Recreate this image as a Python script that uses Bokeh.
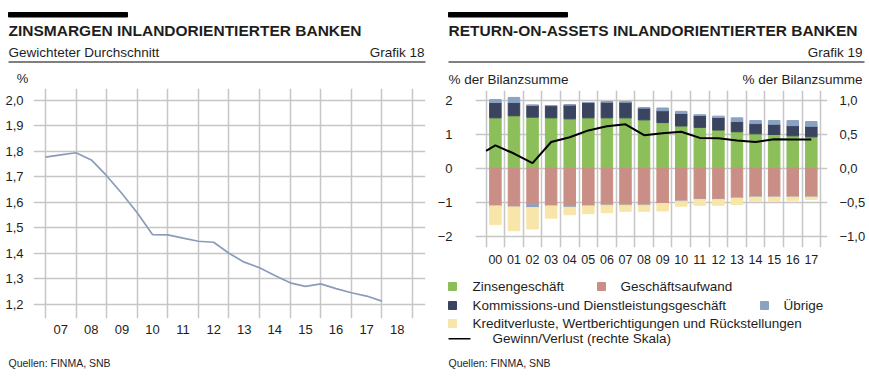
import numpy as np
from bokeh.plotting import figure
from bokeh.models import Range1d, LinearAxis, FixedTicker, CustomJSTickFormatter
from bokeh.layouts import row, column
from bokeh.embed import file_html
from bokeh.resources import INLINE
from bokeh.core.properties import value

FONT = "Liberation Sans"
TXT = "#1e1e1e"
GRID = "#c6c6c6"

# ---------------- Grafik 18: Zinsmargen (semi-annual) ----------------
zm_period = [2007.0, 2007.5, 2008.0, 2008.5, 2009.0, 2009.5, 2010.0, 2010.5,
             2011.0, 2011.5, 2012.0, 2012.5, 2013.0, 2013.5, 2014.0, 2014.5,
             2015.0, 2015.5, 2016.0, 2016.5, 2017.0, 2017.5, 2018.0]
zm_value = [1.778, 1.787, 1.795, 1.767, 1.705, 1.635, 1.560, 1.474,
            1.473, 1.460, 1.448, 1.444, 1.401, 1.366, 1.344, 1.314,
            1.285, 1.271, 1.281, 1.262, 1.246, 1.233, 1.213]
zm_year_labels = ["07", "08", "09", "10", "11", "12", "13", "14", "15", "16", "17", "18"]
zm_y_ticks = [1.2, 1.3, 1.4, 1.5, 1.6, 1.7, 1.8, 1.9, 2.0]

# ---------------- Grafik 19: Return-on-Assets ----------------
roa_years = ["00", "01", "02", "03", "04", "05", "06", "07", "08",
             "09", "10", "11", "12", "13", "14", "15", "16", "17"]
zins = [1.49, 1.55, 1.51, 1.49, 1.46, 1.49, 1.49, 1.49, 1.43,
        1.35, 1.25, 1.21, 1.13, 1.08, 1.02, 1.00, 0.96, 0.93]
kommission = [0.45, 0.39, 0.35, 0.36, 0.41, 0.45, 0.46, 0.46, 0.35,
              0.35, 0.37, 0.35, 0.37, 0.30, 0.30, 0.30, 0.30, 0.31]
uebrige = [0.09, 0.15, -0.08, 0.00, -0.03, 0.00, 0.02, 0.01, 0.00,
           0.08, 0.06, 0.02, 0.04, 0.11, 0.09, 0.11, 0.15, 0.14]
aufwand = [-1.10, -1.13, -1.07, -1.10, -1.11, -1.10, -1.08, -1.08, -1.08,
           -1.03, -0.96, -0.91, -0.91, -0.87, -0.84, -0.84, -0.84, -0.84]
kredit = [-0.55, -0.70, -0.63, -0.36, -0.22, -0.23, -0.22, -0.18, -0.18,
          -0.22, -0.15, -0.17, -0.17, -0.19, -0.12, -0.12, -0.11, -0.07]
gewinn_start = 0.26
gewinn = [0.34, 0.22, 0.08, 0.39, 0.46, 0.56, 0.62, 0.65, 0.49,
          0.52, 0.54, 0.45, 0.445, 0.41, 0.39, 0.43, 0.425, 0.425]
roa_left_ticks = [-2, -1, 0, 1, 2]
roa_right_ticks = [-1.0, -0.5, 0.0, 0.5, 1.0]

C_ZINS = "#8cbf5a"
C_AUFW = "#c98f86"
C_KOMM = "#3b445f"
C_UEBR = "#8ba2c3"
C_KRED = "#f8e5a9"
C_LINE = "#000000"

legend_labels = ["Zinsengeschäft", "Geschäftsaufwand",
                 "Kommissions-und Dienstleistungsgeschäft", "Übrige",
                 "Kreditverluste, Wertberichtigungen und Rückstellungen",
                 "Gewinn/Verlust (rechte Skala)"]
legend_colors = [C_ZINS, C_AUFW, C_KOMM, C_UEBR, C_KRED, C_LINE]

HDR = 88  # header height


def blank(w, h):
    p = figure(width=w, height=h, x_range=Range1d(0, w), y_range=Range1d(h, 0),
               output_backend="svg", toolbar_location=None, min_border=0,
               min_border_left=0, min_border_right=0, min_border_top=0, min_border_bottom=0,
               x_axis_type=None, y_axis_type=None)
    p.outline_line_color = None
    p.frame_align = False
    return p


def txt(p, x, y, s, size, align="left", bold=False, color=TXT):
    # y is the visual centre of the text line
    p.text(x=[x], y=[y], text=[s], text_font=value(FONT),
           text_font_size=value(f"{size}px"), text_align=align,
           text_baseline="middle", text_color=color,
           text_font_style="bold" if bold else "normal")


def style_axis(ax, size="13px", standoff=5):
    ax.axis_line_color = None
    ax.major_tick_line_color = None
    ax.minor_tick_line_color = None
    ax.major_label_text_font = FONT
    ax.major_label_text_font_size = size
    ax.major_label_text_color = TXT
    ax.major_label_standoff = standoff


# ---------------- Left header ----------------
hL = blank(434, HDR)
hL.quad(left=[8], right=[127], top=[12], bottom=[16.5], color="black")
txt(hL, 8, 30, "ZINSMARGEN INLANDORIENTIERTER BANKEN", 15.5, bold=True)
txt(hL, 8, 51.5, "Gewichteter Durchschnitt", 13.5)
txt(hL, 424, 51.5, "Grafik 18", 13.5, align="right")
hL.segment(x0=[8], y0=[61.5], x1=[425], y1=[61.5], line_color="black", line_width=1)
txt(hL, 22, 78.3, "%", 13, align="center")

# ---------------- Left chart ----------------
zm_bounds = [2000 + int(s) for s in zm_year_labels] + [2001 + int(zm_year_labels[-1])]
zm_mid = [b + 0.5 for b in zm_bounds[:-1]]

pL = figure(width=434, height=350 - HDR, x_range=Range1d(2006.61, 2019.425),
            y_range=Range1d(1.145, 2.047), output_backend="svg", toolbar_location=None,
            min_border_left=33, min_border_right=9, min_border_top=0, min_border_bottom=32)
pL.outline_line_color = None
pL.frame_align = False
pL.xaxis.ticker = FixedTicker(ticks=zm_mid)
pL.xaxis.formatter = CustomJSTickFormatter(
    args=dict(mids=zm_mid, labs=zm_year_labels),
    code="let b=0,d=1e9;for(let i=0;i<mids.length;i++){const e=Math.abs(mids[i]-tick);if(e<d){d=e;b=i}}return labs[b];")
pL.xgrid.ticker = FixedTicker(ticks=zm_bounds)
pL.yaxis.ticker = FixedTicker(ticks=zm_y_ticks)
pL.yaxis.formatter = CustomJSTickFormatter(code="return tick.toFixed(1).replace('.', ',');")
style_axis(pL.xaxis[0], "13px", 0)
style_axis(pL.yaxis[0], "13px", 4)
pL.grid.grid_line_color = GRID
pL.grid.grid_line_width = 1.5
pL.line(zm_period, zm_value, line_color="#8a9cbb", line_width=1.7)

fL = blank(434, 28)
txt(fL, 8, 12.5, "Quellen: FINMA, SNB", 10.5)

# ---------------- Right header ----------------
hR = blank(435, HDR)
hR.quad(left=[14], right=[133], top=[12], bottom=[16.5], color="black")
txt(hR, 14, 30, "RETURN-ON-ASSETS INLANDORIENTIERTER BANKEN", 15.5, bold=True)
txt(hR, 428, 51.5, "Grafik 19", 13.5, align="right")
hR.segment(x0=[14], y0=[61.5], x1=[430], y1=[61.5], line_color="black", line_width=1)
txt(hR, 14, 78.5, "% der Bilanzsumme", 13.5)
txt(hR, 428, 78.5, "% der Bilanzsumme", 13.5, align="right")

# ---------------- Right chart ----------------
n = len(roa_years)
xs = np.arange(n)
z = np.array(zins)
k = np.array(kommission)
u = np.array(uebrige)
a = np.array(aufwand)
kr = np.array(kredit)
u_pos = np.where(u > 0, u, 0)
u_neg = np.where(u < 0, u, 0)

pR = figure(width=435, height=272 - HDR, x_range=Range1d(-1.07, 17.87),
            y_range=Range1d(-2.324, 2.294), output_backend="svg", toolbar_location=None,
            min_border_left=36, min_border_right=42, min_border_top=90 - HDR, min_border_bottom=25)
pR.outline_line_color = None
pR.frame_align = False
pR.extra_y_ranges = {"r": Range1d(-2.324 / 2, 2.294 / 2)}
raxis = LinearAxis(y_range_name="r")
pR.add_layout(raxis, "right")

pR.xaxis.ticker = FixedTicker(ticks=[int(i) for i in xs])
pR.xaxis.formatter = CustomJSTickFormatter(args=dict(labs=roa_years),
                                           code="return labs[Math.round(tick)];")
pR.xgrid.ticker = FixedTicker(ticks=[i - 0.5 for i in range(n + 1)])
pR.yaxis[0].ticker = FixedTicker(ticks=roa_left_ticks)
pR.yaxis[0].formatter = CustomJSTickFormatter(code="return String(tick).replace('-', '\u2212');")
raxis.ticker = FixedTicker(ticks=roa_right_ticks)
raxis.formatter = CustomJSTickFormatter(code="return tick.toFixed(1).replace('.', ',').replace('-', '\u2212');")
style_axis(pR.xaxis[0], "12.5px", 1)
style_axis(pR.yaxis[0], "13px", 17)
style_axis(raxis, "13px", 6)
pR.grid.grid_line_color = GRID
pR.grid.grid_line_width = 1.5

W = 0.62
pR.vbar(x=xs, width=W, bottom=0, top=z, color=C_ZINS)
pR.vbar(x=xs, width=W, bottom=z, top=z + k, color=C_KOMM)
pR.vbar(x=xs, width=W, bottom=z + k, top=z + k + u_pos, color=C_UEBR)
pR.vbar(x=xs, width=W, bottom=0, top=a, color=C_AUFW)
pR.vbar(x=xs, width=W, bottom=a, top=a + u_neg, color=C_UEBR)
pR.vbar(x=xs, width=W, bottom=a + u_neg, top=a + u_neg + kr, color=C_KRED)

line_x = [-0.5] + [int(i) for i in xs]
line_y = [gewinn_start] + gewinn
pR.line(line_x, line_y, y_range_name="r", line_color=C_LINE, line_width=2)

# ---------------- Right legend + footer ----------------
lR = blank(435, 106)
sq_pos = [(14, 14, 38), (163, 14, 186), (14, 33, 38), (326, 33, 349), (14, 51, 38)]
for (sx, sy, tx), lab, col in zip(sq_pos, legend_labels[:5], legend_colors[:5]):
    lR.rect(x=[sx + 4], y=[sy], width=8, height=8, color=col)
    txt(lR, tx, sy, lab, 13.5)
lR.segment(x0=[14], y0=[66.3], x1=[36], y1=[66.3], line_color=legend_colors[5], line_width=1.6)
txt(lR, 58, 66.3, legend_labels[5], 13.5)
txt(lR, 14, 90.5, "Quellen: FINMA, SNB", 10.5)

layout = row(column(hL, pL, fL, spacing=0), column(hR, pR, lR, spacing=0), spacing=0)

with open("out.html", "w") as f:
    f.write(file_html(layout, INLINE))
